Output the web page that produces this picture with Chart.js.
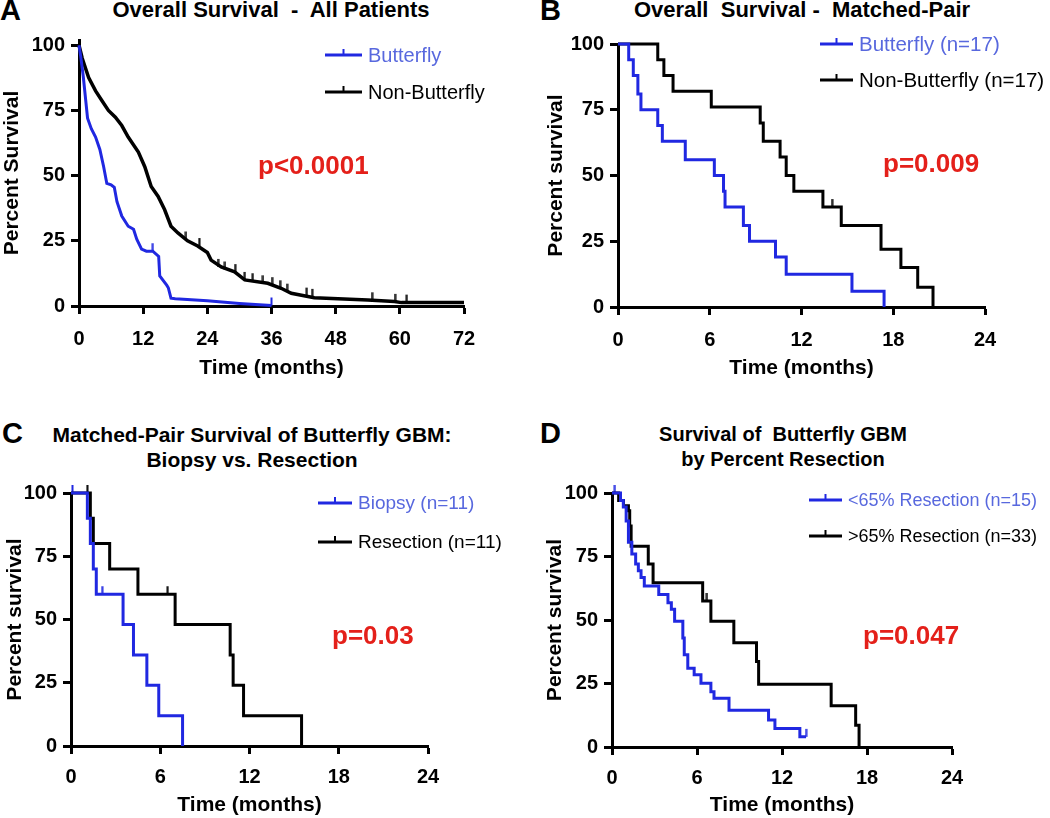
<!DOCTYPE html>
<html>
<head>
<meta charset="utf-8">
<script src="https://cdn.jsdelivr.net/npm/chart.js@4.4.1/dist/chart.umd.min.js"></script>
<style>
  body { margin: 0; background: #fff; width: 1050px; height: 818px; position: relative; overflow: hidden;
         font-family: "Liberation Sans", Arial, sans-serif; }
  canvas { position: absolute; }
  .letter { position: absolute; font-weight: bold; font-size: 29px; line-height: 28px; }
  .title { position: absolute; font-weight: bold; font-size: 21px; line-height: 25px; text-align: center; white-space: pre; }
</style>
</head>
<body>
<div class="letter" style="left:0;top:-4px">A</div>
<div class="letter" style="left:540px;top:-4px">B</div>
<div class="letter" style="left:2px;top:419px">C</div>
<div class="letter" style="left:540px;top:419px">D</div>

<div class="title" style="left:71px;width:400px;top:-3px;font-size:22px">Overall Survival  -  All Patients</div>
<div class="title" style="left:602px;width:400px;top:-3px;font-size:22px">Overall  Survival -  Matched-Pair</div>
<div class="title" style="left:22px;width:460px;top:422px">Matched-Pair Survival of Butterfly GBM:
Biopsy vs. Resection</div>
<div class="title" style="left:583px;width:400px;top:422px;font-size:20px">Survival of  Butterfly GBM
by Percent Resection</div>

<canvas id="chartA" width="520" height="400" style="left:0;top:0"></canvas>
<canvas id="chartB" width="530" height="400" style="left:520px;top:0"></canvas>
<canvas id="chartC" width="520" height="418" style="left:0;top:400px"></canvas>
<canvas id="chartD" width="530" height="418" style="left:520px;top:400px"></canvas>

<script>
// ---- data (time in months, percent survival) ----
const yTicks = [0, 25, 50, 75, 100];
const xTicksA = [0, 12, 24, 36, 48, 60, 72];
const xTicks24 = [0, 6, 12, 18, 24];

// A: all patients
const aButterflyT = [0, 0.3, 0.8, 1.3, 1.6, 2.3, 3.1, 3.9, 4.6, 5.2, 6.0, 6.6, 7.1, 8.0, 9.2, 10.2, 10.8, 11.7, 12.6, 13.8, 14.9, 15.1, 16.4, 16.7, 17.2, 18, 24, 30, 36];
const aButterflyS = [100, 96, 88, 78, 72, 68, 64.8, 60, 53.5, 47, 46.5, 45.5, 40, 34.5, 30.6, 29.4, 25.6, 21.8, 21, 21, 19, 11.5, 8, 7, 3, 2.8, 2, 1, 0.2];
const aButterflyCensT = [13.8, 36];
const aButterflyCensS = [21, 0.2];
const aNonT = [0, 0.6, 1.8, 3.1, 4.3, 5.5, 6.8, 8.0, 9.2, 11.1, 12.3, 13.5, 14.8, 16.0, 17.2, 18.5, 20.3, 22.2, 24, 24.7, 26.6, 29.1, 31, 35.3, 37.8, 39.7, 44, 54, 59, 60.3, 72];
const aNonS = [100, 95, 87.6, 82.5, 78.7, 75, 72.4, 69.2, 64.8, 59, 53.4, 45.8, 42, 37, 30.6, 28, 25, 23, 20.5, 17.6, 15, 13.1, 10, 8.7, 6.8, 4.9, 3.2, 2.3, 1.7, 1.3, 1.3];
const aNonCensT = [20, 22.5, 26, 27.3, 29.2, 31, 32.5, 34.4, 36.1, 37.6, 38.9, 42.6, 43.6, 54.8, 59.1, 61.3];
const aNonCensS = [25.5, 23, 15, 14, 13, 10, 9.5, 8.7, 8, 6.8, 5.5, 4, 3.5, 2.2, 1.6, 1.3];

// B: matched pair
const bButterflyT = [0, 0.7, 1.0, 1.3, 1.5, 2.6, 2.9, 4.4, 6.3, 6.9, 7.0, 8.2, 8.6, 10.3, 11.0, 15.3, 17.4];
const bButterflyS = [100, 94, 88, 81, 75, 69, 63, 56, 50, 44, 38, 31, 25, 19, 12.5, 6, 0];
const bNonT = [0, 2.6, 3.0, 3.6, 6.1, 9.3, 9.5, 10.6, 11.0, 11.5, 13.4, 14.6, 17.2, 18.5, 19.6, 20.6];
const bNonS = [100, 94, 88, 82, 76, 70, 63, 57, 50, 44, 38, 31, 22, 15, 7.5, 0];
const bNonCensT = [14.0];
const bNonCensS = [38];

// C: biopsy vs resection
const cBiopsyT = [0, 1.1, 1.3, 1.5, 1.7, 3.5, 4.2, 5.1, 5.9, 7.5];
const cBiopsyS = [100, 90, 80, 70, 60, 48, 36, 24, 12, 0];
const cBiopsyCensT = [0.1, 2.1];
const cBiopsyCensS = [100, 60];
const cResectT = [0, 1.3, 1.5, 2.6, 4.5, 7.0, 10.7, 10.9, 11.6, 15.5];
const cResectS = [100, 90, 80, 70, 60, 48, 36, 24, 12, 0];
const cResectCensT = [1.1, 6.5];
const cResectCensS = [100, 60];

// D: by percent resection
const dLowT = [0, 0.6, 0.8, 1.0, 1.16, 1.4, 1.67, 1.86, 2.05, 2.28, 3.3, 3.95, 4.19, 4.42, 5.0, 5.1, 5.35, 5.8, 6.28, 6.98, 7.2, 8.26, 11.05, 11.5, 13.26, 13.7];
const dLowS = [100, 97, 94.5, 89, 80.6, 76, 72, 69.4, 66.7, 63.4, 60, 56.8, 54.2, 49.5, 42.9, 36.3, 31, 28.4, 25.1, 21.8, 19.2, 14.5, 10.6, 7.3, 4, 4];
const dLowCensT = [0.2, 13.7];
const dLowCensS = [100, 4];
const dHighT = [0, 0.47, 0.81, 1.16, 1.25, 1.35, 2.56, 2.9, 6.4, 6.98, 8.6, 10.2, 10.35, 15.47, 17.2, 17.44];
const dHighS = [100, 97, 95, 93, 87, 79, 72, 64.7, 57.5, 49.5, 41, 33.7, 24.7, 16.2, 8.6, 0];
const dHighCensT = [6.7];
const dHighCensS = [57.5];

const BLUE = 'rgb(32, 40, 225)';
const BLUE_TEXT = 'rgb(88, 104, 222)';
const BLACK = '#000';
const RED = 'rgb(228, 32, 26)';
const FONT = '"Liberation Sans", Arial, sans-serif';

// small upward tick used for censored observations
function censorMark(color) {
    const c = document.createElement('canvas');
    c.width = 3;
    c.height = 18;
    const g = c.getContext('2d');
    g.fillStyle = color;
    g.fillRect(0.5, 1, 2, 8);
    return c;
}

function toPoints(ts, ss) {
    return ts.map((t, i) => ({ x: t, y: ss[i] }));
}

function curve(label, color, ts, ss, stepped, width) {
    return {
        label: label,
        data: toPoints(ts, ss),
        borderColor: color,
        borderWidth: width || 3,
        stepped: stepped,
        pointRadius: 0,
        fill: false,
        clip: 6
    };
}

function censors(color, ts, ss) {
    return {
        label: '',
        data: toPoints(ts, ss),
        showLine: false,
        pointStyle: censorMark(color),
        pointRadius: 4,
        clip: 10,
        isCensor: true
    };
}

// legend + p-value drawn in the chart canvas
const decorPlugin = {
    id: 'decor',
    afterDraw(chart, args, opts) {
        const ctx = chart.ctx;
        ctx.save();
        const curves = chart.data.datasets.filter(d => !d.isCensor);
        curves.forEach((ds, i) => {
            const y = opts.legendY[i];
            const x = opts.legendX;
            ctx.strokeStyle = ds.borderColor;
            ctx.lineWidth = 3;
            ctx.beginPath();
            ctx.moveTo(x, y);
            ctx.lineTo(x + opts.lineLen, y);
            ctx.stroke();
            ctx.lineWidth = 2;
            ctx.beginPath();
            ctx.moveTo(x + opts.lineLen / 2, y);
            ctx.lineTo(x + opts.lineLen / 2, y - 6);
            ctx.stroke();
            ctx.fillStyle = opts.textColors[i];
            ctx.font = opts.legendFont;
            ctx.textBaseline = 'middle';
            ctx.textAlign = 'left';
            ctx.fillText(ds.label, x + opts.lineLen + 6, y + 1);
        });
        ctx.fillStyle = RED;
        ctx.font = 'bold 26px ' + FONT;
        ctx.textBaseline = 'middle';
        ctx.fillText(opts.pText, opts.pX, opts.pY);
        ctx.restore();
    }
};

function makeChart(id, cfg) {
    const canvas = document.getElementById(id);
    const W = canvas.width, H = canvas.height;
    const area = cfg.area;
    const axisFont = { family: FONT, weight: 'bold', size: 21 };
    const tickFont = { family: FONT, weight: 'bold', size: 20 };
    const grid = { drawOnChartArea: false, drawTicks: true, tickLength: 8, tickWidth: 3, tickColor: '#000' };
    const border = { display: true, width: 3, color: '#000' };

    return new Chart(canvas, {
        type: 'line',
        data: { datasets: cfg.datasets },
        options: {
            responsive: false,
            animation: false,
            events: [],
            layout: { padding: { left: 0, top: area.top, right: W - area.right, bottom: 0 } },
            plugins: {
                legend: { display: false },
                tooltip: { enabled: false },
                decor: cfg.decor
            },
            scales: {
                x: {
                    type: 'linear',
                    min: 0,
                    max: cfg.xTicks[cfg.xTicks.length - 1],
                    afterBuildTicks: axis => { axis.ticks = cfg.xTicks.map(v => ({ value: v })); },
                    afterFit: s => { s.height = H - area.bottom; },
                    ticks: { font: tickFont, color: '#000', padding: cfg.xTickPad, maxRotation: 0 },
                    grid: grid,
                    border: border,
                    title: { display: true, text: 'Time (months)', font: axisFont, color: '#000',
                             padding: { top: 0, bottom: cfg.xTitlePad } }
                },
                y: {
                    type: 'linear',
                    min: 0,
                    max: cfg.yMax,
                    afterBuildTicks: axis => { axis.ticks = yTicks.map(v => ({ value: v })); },
                    afterFit: s => { s.width = area.left; },
                    ticks: { font: tickFont, color: '#000', padding: 6 },
                    grid: grid,
                    border: border,
                    title: { display: true, text: cfg.yTitle, font: axisFont, color: '#000',
                             padding: { top: cfg.yTitlePad, bottom: 0 } }
                }
            }
        },
        plugins: [decorPlugin]
    });
}

makeChart('chartA', {
    area: { left: 79, right: 464, top: 40, bottom: 306 },
    yMax: 102,
    xTicks: xTicksA,
    yTitle: 'Percent Survival',
    yTitlePad: 0,
    xTitlePad: 19,
    xTickPad: 13,
    datasets: [
        curve('Butterfly', BLUE, aButterflyT, aButterflyS, false, 3),
        curve('Non-Butterfly', BLACK, aNonT, aNonS, false, 3.5),
        censors(BLUE, aButterflyCensT, aButterflyCensS),
        censors(BLACK, aNonCensT, aNonCensS)
    ],
    decor: { legendX: 325, legendY: [55, 92], lineLen: 37, textColors: [BLUE_TEXT, '#000'],
             legendFont: '20px ' + FONT, pText: 'p<0.0001', pX: 258, pY: 167 }
});

makeChart('chartB', {
    area: { left: 98, right: 465, top: 44, bottom: 307 },
    yMax: 100,
    xTicks: xTicks24,
    yTitle: 'Percent survival',
    yTitlePad: 24,
    xTitlePad: 19,
    xTickPad: 13,
    datasets: [
        curve('Butterfly (n=17)', BLUE, bButterflyT, bButterflyS, true),
        curve('Non-Butterfly (n=17)', BLACK, bNonT, bNonS, true),
        censors(BLACK, bNonCensT, bNonCensS)
    ],
    decor: { legendX: 300, legendY: [44, 80], lineLen: 33, textColors: [BLUE_TEXT, '#000'],
             legendFont: '20.5px ' + FONT, pText: 'p=0.009', pX: 363, pY: 165 }
});

makeChart('chartC', {
    area: { left: 71, right: 428, top: 93, bottom: 346 },
    yMax: 100,
    xTicks: xTicks24,
    yTitle: 'Percent survival',
    yTitlePad: 3,
    xTitlePad: 0,
    xTickPad: 11,
    datasets: [
        curve('Biopsy (n=11)', BLUE, cBiopsyT, cBiopsyS, true),
        curve('Resection (n=11)', BLACK, cResectT, cResectS, true),
        censors(BLUE, cBiopsyCensT, cBiopsyCensS),
        censors(BLACK, cResectCensT, cResectCensS)
    ],
    decor: { legendX: 318, legendY: [103, 142], lineLen: 34, textColors: [BLUE_TEXT, '#000'],
             legendFont: '19px ' + FONT, pText: 'p=0.03', pX: 332, pY: 237 }
});

makeChart('chartD', {
    area: { left: 92, right: 432, top: 93, bottom: 347 },
    yMax: 100,
    xTicks: xTicks24,
    yTitle: 'Percent survival',
    yTitlePad: 23,
    xTitlePad: 0,
    xTickPad: 11,
    datasets: [
        curve('<65% Resection (n=15)', BLUE, dLowT, dLowS, true),
        curve('>65% Resection (n=33)', BLACK, dHighT, dHighS, true),
        censors(BLUE, dLowCensT, dLowCensS),
        censors(BLACK, dHighCensT, dHighCensS)
    ],
    decor: { legendX: 289, legendY: [100, 136], lineLen: 33, textColors: [BLUE_TEXT, '#000'],
             legendFont: '18px ' + FONT, pText: 'p=0.047', pX: 343, pY: 237 }
});
</script>
</body>
</html>
